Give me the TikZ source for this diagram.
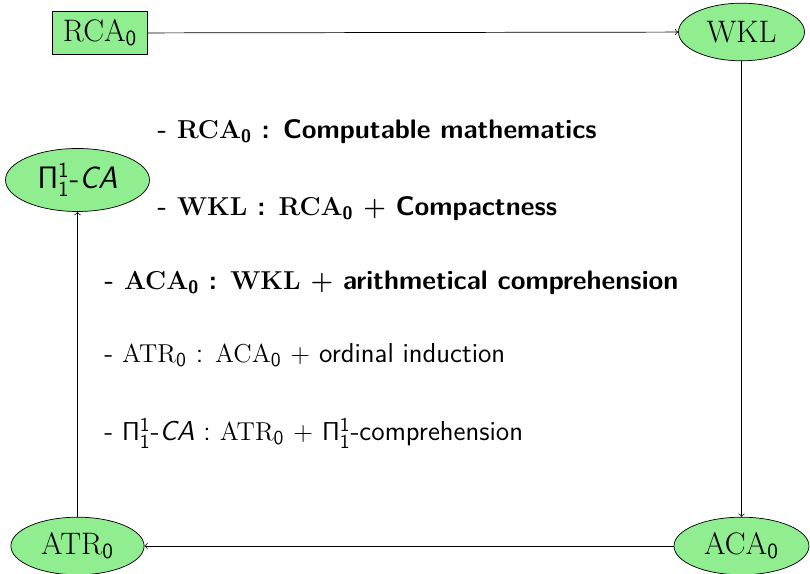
\documentclass[tikz,border=0pt]{standalone}
\usepackage{amsmath,amssymb}
\usepackage{xcolor}
\usepackage{tikz}
\usetikzlibrary{shapes.geometric, arrows, positioning}

\definecolor{nodegreen}{HTML}{90EE90}

\begin{document}
\begin{tikzpicture}[
    x=0.5556pt, y=-0.5556pt,
    system/.style={
        draw, rectangle, fill=nodegreen,
        minimum width=53pt, minimum height=24pt,
        text centered, font=\LARGE, inner sep=0pt
    },
    theory/.style={
        draw, ellipse, fill=nodegreen,
        minimum width=72pt, minimum height=32pt,
        text centered, font=\LARGE, inner sep=0pt
    },
    desc/.style={anchor=base west, inner sep=0pt, font=\fontsize{15.2}{18}\selectfont\sffamily},
    bolddesc/.style={desc, font=\fontsize{14.9}{18}\selectfont\sffamily\bfseries\boldmath},
    arrow/.style={->}
]
\useasboundingbox (0,0) rectangle (810,574);

% --- The five systems, round the edge of the picture
\node (rca)  [system]                                at (100,33)   {$\mathrm{RCA}_{\mathsf{0}}$};
\node (wkl)  [theory, minimum width=70pt]            at (741.5,32) {$\mathrm{WKL}$};
\node (aca)  [theory, minimum width=75pt]            at (741.5,546) {$\mathrm{ACA}_{\mathsf{0}}$};
\node (atr)  [theory, minimum width=74pt]            at (77.5,546) {$\mathrm{ATR}_{\mathsf{0}}$};
\node (pica) [theory, minimum width=80pt, minimum height=35pt, font=\LARGE\sffamily]
                                                     at (77.5,180) {$\mathsf{\Pi}^{\mathsf{1}}_{\mathsf{1}}$-\textit{CA}};

% --- Arrows round the cycle
\draw [arrow] (rca) -- (wkl);
\draw [arrow] (wkl) -- (aca);
\draw [arrow] (aca) -- (atr);
\draw [arrow] (atr) -- (pica);

% --- Descriptions in the middle
\node (d1) [bolddesc] at (157,139)
    {- $\mathrm{RCA}_{\mathsf{0}}$ : Computable mathematics};
\node (d2) [bolddesc] at (157,216)
    {- $\mathrm{WKL}$ : $\mathrm{RCA}_{\mathsf{0}}$ $+$ Compactness};
\node (d3) [bolddesc] at (104,290)
    {- $\mathrm{ACA}_{\mathsf{0}}$ : $\mathrm{WKL}$ $+$ arithmetical comprehension};
\node (d4) [desc] at (104,363)
    {- $\mathrm{ATR}_{\mathsf{0}}$ : $\mathrm{ACA}_{\mathsf{0}}$ $+$ ordinal induction};
\node (d5) [desc] at (104,441)
    {- $\mathsf{\Pi}^{\mathsf{1}}_{\mathsf{1}}$-\textit{CA} : $\mathrm{ATR}_{\mathsf{0}}$ $+$ $\mathsf{\Pi}^{\mathsf{1}}_{\mathsf{1}}$-comprehension};

\end{tikzpicture}
\end{document}
